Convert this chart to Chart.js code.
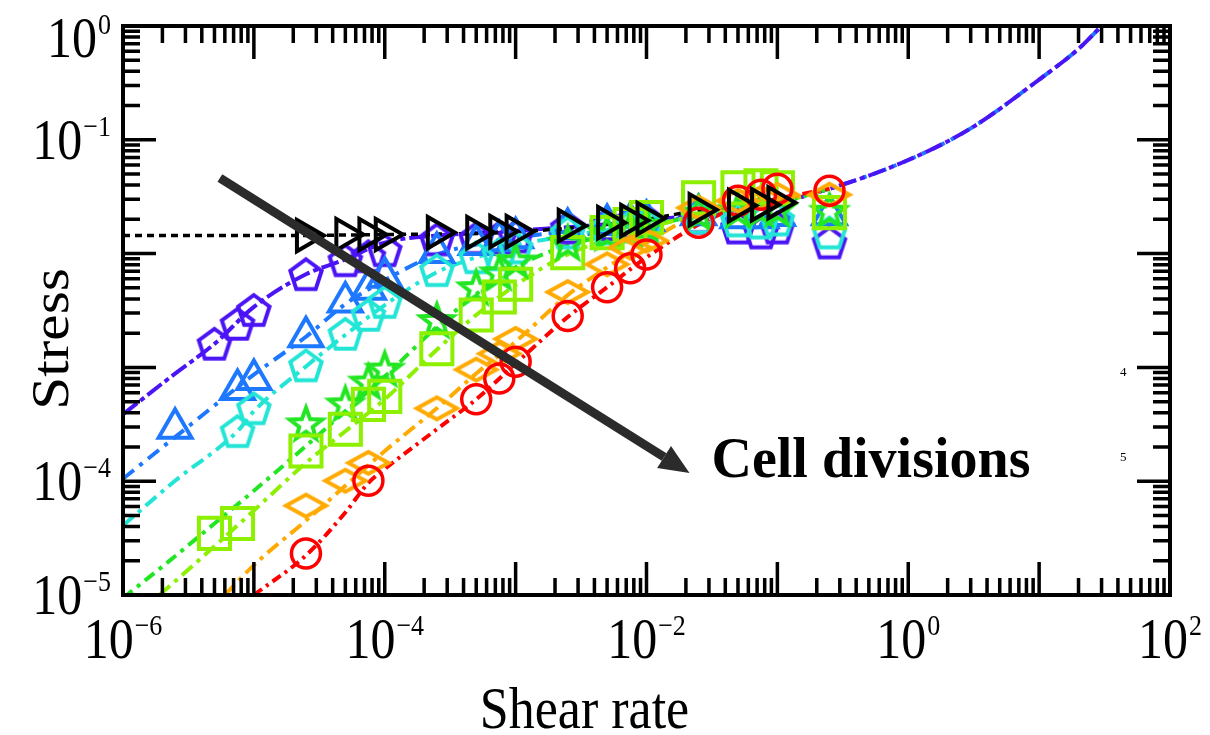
<!DOCTYPE html>
<html>
<head>
<meta charset="utf-8">
<script src="https://cdn.jsdelivr.net/npm/chart.js@4.4.1/dist/chart.umd.min.js"></script>
<style>
html, body { margin: 0; padding: 0; background: #fff; }
#wrap { width: 1210px; height: 735px; }
</style>
</head>
<body>
<div id="wrap"><canvas id="stressChart" width="1210" height="735"></canvas></div>
<script>
// values (shear rate / stress)
var purpleRate = [5e-6, 7.5e-6, 1e-5, 2.5e-5, 5e-5, 7.5e-5, 1e-4, 2.5e-4, 5e-4, 7.5e-4, 1e-3, 2.5e-3, 5e-3, 7.5e-3, 1e-2, 2.5e-2, 5e-2, 7.5e-2, 0.1, 0.25];
var purpleStress = [0.00161, 0.00241, 0.00319, 0.00658, 0.00873, 0.00946, 0.0107, 0.0133, 0.0136, 0.0138, 0.0141, 0.0169, 0.0180, 0.0187, 0.0195, 0.0207, 0.0169, 0.0153, 0.0169, 0.0125];
var blueRate = [2.5e-6, 7.5e-6, 1e-5, 2.5e-5, 5e-5, 7.5e-5, 1e-4, 2.5e-4, 5e-4, 7.5e-4, 1e-3, 2.5e-3, 5e-3, 7.5e-3, 1e-2, 2.5e-2, 5e-2, 7.5e-2, 0.1, 0.25];
var blueStress = [0.000292, 0.000640, 0.000783, 0.00186, 0.00375, 0.00487, 0.00620, 0.0102, 0.0120, 0.0130, 0.0138, 0.0166, 0.0180, 0.0187, 0.0195, 0.0220, 0.0207, 0.0207, 0.0216, 0.0220];
var cyanRate = [7.5e-6, 1e-5, 2.5e-5, 5e-5, 7.5e-5, 1e-4, 2.5e-4, 5e-4, 7.5e-4, 1e-3, 2.5e-3, 5e-3, 7.5e-3, 1e-2, 2.5e-2, 5e-2, 7.5e-2, 0.1, 0.25];
var cyanStress = [0.000275, 0.000437, 0.00104, 0.00197, 0.00289, 0.00375, 0.00714, 0.00927, 0.00984, 0.0113, 0.0153, 0.0166, 0.0173, 0.0180, 0.0207, 0.0195, 0.0187, 0.0199, 0.0153];
var greenRate = [2.5e-5, 5e-5, 7.5e-5, 1e-4, 2.5e-4, 5e-4, 7.5e-4, 1e-3, 2.5e-3, 5e-3, 7.5e-3, 1e-2, 2.5e-2, 5e-2, 7.5e-2, 0.1, 0.25];
var greenStress = [0.000323, 0.000483, 0.000752, 0.000977, 0.00261, 0.00507, 0.00686, 0.00873, 0.0125, 0.0153, 0.0166, 0.0180, 0.0229, 0.0243, 0.0248, 0.0248, 0.0238];
var limeRate = [5e-6, 7.5e-6, 2.5e-5, 5e-5, 7.5e-5, 1e-4, 2.5e-4, 5e-4, 7.5e-4, 1e-3, 2.5e-3, 5e-3, 7.5e-3, 1e-2, 2.5e-2, 5e-2, 7.5e-2, 0.1, 0.25];
var limeStress = [0.0000348, 0.0000425, 0.000184, 0.000286, 0.000473, 0.000556, 0.00146, 0.00289, 0.00415, 0.00538, 0.0102, 0.0153, 0.0180, 0.0207, 0.0309, 0.0378, 0.0394, 0.0378, 0.0229];
var orangeRate = [2.5e-5, 5e-5, 7.5e-5, 2.5e-4, 5e-4, 7.5e-4, 1e-3, 2.5e-3, 5e-3, 7.5e-3, 1e-2, 2.5e-2, 5e-2, 7.5e-2, 0.1, 0.25];
var orangeStress = [0.0000610, 0.000101, 0.000145, 0.000437, 0.000957, 0.00132, 0.00178, 0.00459, 0.00805, 0.0113, 0.0130, 0.0253, 0.0291, 0.0309, 0.0329, 0.0329];
var redRate = [2.5e-5, 7.5e-5, 5e-4, 7.5e-4, 1e-3, 2.5e-3, 5e-3, 7.5e-3, 1e-2, 2.5e-2, 5e-2, 7.5e-2, 0.1, 0.25];
var redStress = [0.0000232, 0.000101, 0.000524, 0.000798, 0.00112, 0.00283, 0.00507, 0.00743, 0.00984, 0.0187, 0.0291, 0.0329, 0.0371, 0.0356];
var blackRate = [2.5e-5, 5e-5, 7.5e-5, 1e-4, 2.5e-4, 5e-4, 7.5e-4, 1e-3, 2.5e-3, 5e-3, 7.5e-3, 1e-2, 2.5e-2, 5e-2, 7.5e-2, 0.1];
var blackStress = [0.0144, 0.0147, 0.0147, 0.0147, 0.0153, 0.0153, 0.0156, 0.0156, 0.0176, 0.0187, 0.0195, 0.0203, 0.0243, 0.0264, 0.0269, 0.0280];

// fitted curves (dash-dot)
var purpleFitRate = [1e-6, 2.5e-6, 5e-6, 1e-5, 2.5e-5, 5e-5, 1e-4, 2.5e-4, 1e-3, 1e-2, 0.1, 0.25, 1, 3, 10, 20, 30];
var purpleFitStress = [0.000387, 0.000883, 0.00161, 0.00340, 0.00658, 0.00890, 0.0125, 0.0144, 0.0159, 0.0195, 0.0280, 0.0371, 0.0664, 0.126, 0.338, 0.63, 1.0];
var blueFitRate = [1e-6, 2.5e-6, 1e-5, 2.5e-5, 5e-5, 1e-4, 2.5e-4, 5e-4, 1e-3, 1e-2, 0.1, 0.25, 1, 3, 10, 20, 30];
var blueFitStress = [0.000105, 0.000244, 0.000865, 0.00186, 0.00360, 0.00584, 0.00984, 0.0120, 0.0138, 0.0187, 0.0280, 0.0371, 0.0664, 0.126, 0.338, 0.63, 1.0];
var cyanFitRate = [1e-6, 2.5e-6, 7.5e-6, 1e-5, 2.5e-5, 5e-5, 1e-4, 2.5e-4, 5e-4, 1e-3, 1e-2, 0.1, 0.25];
var cyanFitStress = [0.0000408, 0.000101, 0.000275, 0.000412, 0.00102, 0.00193, 0.00353, 0.00686, 0.00927, 0.0118, 0.0180, 0.0280, 0.0371];
var greenFitRate = [1e-6, 2.5e-6, 5e-6, 1e-5, 2.5e-5, 5e-5, 1e-4, 2.5e-4, 5e-4, 1e-3, 2.5e-3, 1e-2, 2.5e-2, 0.1, 0.25];
var greenFitStress = [0.0000094, 0.0000219, 0.0000425, 0.0000824, 0.000204, 0.000412, 0.000832, 0.00227, 0.00441, 0.00758, 0.0118, 0.0169, 0.0220, 0.0280, 0.0371];
var limeFitRate = [1.9e-6, 5e-6, 1e-5, 2.5e-5, 5e-5, 1e-4, 2.5e-4, 5e-4, 1e-3, 2.5e-3, 1e-2, 2.5e-2, 0.1, 0.25];
var limeFitStress = [0.00001, 0.0000268, 0.0000552, 0.000145, 0.000275, 0.000524, 0.00143, 0.00289, 0.00528, 0.00984, 0.0166, 0.0220, 0.0280, 0.0371];
var orangeFitRate = [6e-6, 1e-5, 2.5e-5, 5e-5, 1e-4, 2.5e-4, 5e-4, 1e-3, 2.5e-3, 5e-3, 1e-2, 2.5e-2, 0.1, 0.25];
var orangeFitStress = [0.00001, 0.0000183, 0.0000451, 0.0000912, 0.000184, 0.000437, 0.000883, 0.00168, 0.00432, 0.00758, 0.0125, 0.0220, 0.0291, 0.0371];
var redFitRate = [1e-5, 2.5e-5, 5e-5, 7.5e-5, 1e-4, 2.5e-4, 5e-4, 1e-3, 2.5e-3, 5e-3, 1e-2, 2.5e-2, 5e-2, 0.1, 0.25];
var redFitStress = [0.00001, 0.0000223, 0.0000531, 0.0000968, 0.000128, 0.000286, 0.000524, 0.00108, 0.00277, 0.00507, 0.00927, 0.0180, 0.0253, 0.0303, 0.0371];
var blackFitRate = [1e-6, 1e-5, 1e-4, 1e-3, 1e-2, 2.5e-2, 5e-2, 0.1];
var blackFitStress = [0.0144, 0.0144, 0.0147, 0.0155, 0.0200, 0.0240, 0.0262, 0.0280];

// axis labels (powers of ten shown)
var xTickExps = [-6, -4, -2, 0, 2];
var yTickExps = [0, -1, -4, -5];

// annotation arrow, in data coords [rate, stress]
var arrowFrom = [5.5e-6, 0.0462];
var arrowTo = [0.0213, 0.000118];

var PURPLE = '#4b14f5', BLUE = '#1e78ff', CYAN = '#22e5d5', GREEN = '#22e622',
    LIME = '#8cf000', ORANGE = '#ffaa00', RED = '#ff0000';
var SERIF = '"Liberation Serif", "Times New Roman", serif';
var STRETCH = 1.14;

function pts(xs, ys) {
    var out = [];
    for (var i = 0; i < xs.length; i++) out.push({x: xs[i], y: ys[i]});
    return out;
}

function markerCanvas(shape, color) {
    var c = document.createElement('canvas');
    c.width = 50; c.height = 50;
    var g = c.getContext('2d');
    g.strokeStyle = color;
    g.lineWidth = 4;
    g.lineJoin = 'miter';
    g.translate(25, 25);
    g.beginPath();
    var i, a, r;
    if (shape === 'pentagon') {
        for (i = 0; i < 5; i++) {
            a = -Math.PI / 2 + i * 2 * Math.PI / 5;
            g.lineTo(16.5 * Math.cos(a), 16.5 * Math.sin(a) + 1.5);
        }
    } else if (shape === 'star') {
        for (i = 0; i < 10; i++) {
            r = i % 2 ? 7 : 17;
            a = -Math.PI / 2 + i * Math.PI / 5;
            g.lineTo(r * Math.cos(a), r * Math.sin(a) + 1.5);
        }
    } else {
        g.moveTo(-20, 0); g.lineTo(0, -11); g.lineTo(20, 0); g.lineTo(0, 11);
    }
    g.closePath();
    g.stroke();
    return c;
}

function markers(label, xs, ys, color, style, radius, extra) {
    var ds = {
        label: label, data: pts(xs, ys), showLine: false,
        pointStyle: style, pointRadius: radius, pointBorderColor: color,
        pointBackgroundColor: 'rgba(0,0,0,0)', pointBorderWidth: 4
    };
    if (extra) for (var k in extra) ds[k] = extra[k];
    return ds;
}

function fitLine(label, xs, ys, color, dash, width) {
    return {
        label: label, data: pts(xs, ys), borderColor: color, borderWidth: width || 4,
        borderDash: dash, pointRadius: 0, fill: false, cubicInterpolationMode: 'monotone'
    };
}

function stretchedText(ctx, text, x, y, font, align) {
    ctx.save();
    ctx.font = font;
    ctx.textAlign = align || 'left';
    ctx.textBaseline = 'alphabetic';
    ctx.translate(x, y);
    ctx.scale(1, STRETCH);
    ctx.fillText(text, 0, 0);
    ctx.restore();
}

function powLabel(ctx, exp, x, base, anchor) {
    var bigFont = '50px ' + SERIF, supFont = '26px ' + SERIF;
    var sup = exp < 0 ? '\u2212' + Math.abs(exp) : String(exp);
    ctx.font = bigFont;
    var w1 = ctx.measureText('10').width;
    ctx.font = supFont;
    var w2 = ctx.measureText(sup).width;
    var left = anchor === 'right' ? x - w1 - w2 - 1 : x - (w1 + w2 + 1) / 2;
    stretchedText(ctx, '10', left, base, bigFont);
    stretchedText(ctx, sup, left + w1 + 1, base - 23, supFont);
}

var framePlugin = {
    id: 'frame',
    afterDatasetsDraw: function(chart) {
        var ctx = chart.ctx, a = chart.chartArea;
        var xs = chart.scales.x, ys = chart.scales.y;
        ctx.save();

        // arrow "Cell divisions"
        var x0 = xs.getPixelForValue(arrowFrom[0]), y0 = ys.getPixelForValue(arrowFrom[1]);
        var x1 = xs.getPixelForValue(arrowTo[0]), y1 = ys.getPixelForValue(arrowTo[1]);
        var ang = Math.atan2(y1 - y0, x1 - x0), headLen = 30, headW = 13;
        var bx = x1 - headLen * Math.cos(ang), by = y1 - headLen * Math.sin(ang);
        ctx.strokeStyle = '#2b2b2b';
        ctx.fillStyle = '#2b2b2b';
        ctx.lineWidth = 9;
        ctx.lineCap = 'butt';
        ctx.beginPath(); ctx.moveTo(x0, y0); ctx.lineTo(bx, by); ctx.stroke();
        ctx.beginPath();
        ctx.moveTo(x1, y1);
        ctx.lineTo(bx + headW * Math.sin(ang), by - headW * Math.cos(ang));
        ctx.lineTo(bx - headW * Math.sin(ang), by + headW * Math.cos(ang));
        ctx.closePath(); ctx.fill();

        ctx.fillStyle = '#000';
        ctx.font = 'bold 56px ' + SERIF;
        ctx.textAlign = 'left';
        ctx.fillText('Cell divisions', x1 + 22, y1 + 4);

        // frame
        ctx.strokeStyle = '#000';
        ctx.lineWidth = 4;
        ctx.lineCap = 'square';
        ctx.strokeRect(a.left, a.top, a.right - a.left, a.bottom - a.top);

        // inward ticks on all four sides
        ctx.lineWidth = 3.5;
        ctx.lineCap = 'butt';
        var e, m, v, p, len;
        for (e = -6; e <= 2; e++) {
            for (m = 1; m <= 9; m++) {
                v = m * Math.pow(10, e);
                if (v < xs.min * 0.999 || v > xs.max * 1.001) continue;
                p = xs.getPixelForValue(v);
                len = m === 1 ? 33 : 17;
                ctx.beginPath();
                ctx.moveTo(p, a.bottom); ctx.lineTo(p, a.bottom - len);
                ctx.moveTo(p, a.top); ctx.lineTo(p, a.top + len);
                ctx.stroke();
            }
        }
        for (e = -5; e <= 0; e++) {
            for (m = 1; m <= 9; m++) {
                v = m * Math.pow(10, e);
                if (v < ys.min * 0.999 || v > ys.max * 1.001) continue;
                p = ys.getPixelForValue(v);
                len = m === 1 ? 33 : 17;
                ctx.beginPath();
                ctx.moveTo(a.left, p); ctx.lineTo(a.left + len, p);
                ctx.moveTo(a.right, p); ctx.lineTo(a.right - len, p);
                ctx.stroke();
            }
        }

        // tick labels
        ctx.fillStyle = '#000';
        xTickExps.forEach(function(ex) {
            powLabel(ctx, ex, xs.getPixelForValue(Math.pow(10, ex)), a.bottom + 63, 'center');
        });
        yTickExps.forEach(function(ex) {
            var py = ys.getPixelForValue(Math.pow(10, ex));
            powLabel(ctx, ex, a.left - 12, Math.max(py + 19, a.top + 31), 'right');
        });

        // axis titles
        stretchedText(ctx, 'Shear rate', (a.left + a.right) / 2 - 62, a.bottom + 133, '52px ' + SERIF, 'center');
        ctx.save();
        ctx.translate(68, 339);
        ctx.rotate(-Math.PI / 2);
        ctx.scale(STRETCH, 1);
        ctx.font = '52px ' + SERIF;
        ctx.textAlign = 'center';
        ctx.fillText('Stress', 0, 0);
        ctx.restore();

        // leftover legend digits at the right
        ctx.font = '13px ' + SERIF;
        ctx.textAlign = 'left';
        ctx.fillText('4', a.right - 50, 376);
        ctx.fillText('5', a.right - 50, 461);

        ctx.restore();
    }
};

var datasets = [
    markers('black', blackRate, blackStress, '#000', 'triangle', 18, {pointRotation: 90}),
    markers('red', redRate, redStress, RED, 'circle', 14.5, {pointBorderWidth: 3.5}),
    markers('orange', orangeRate, orangeStress, ORANGE, markerCanvas('diamond', ORANGE), 16),
    markers('lime', limeRate, limeStress, LIME, 'rect', 22),
    markers('green', greenRate, greenStress, GREEN, markerCanvas('star', GREEN), 16),
    markers('cyan', cyanRate, cyanStress, CYAN, markerCanvas('pentagon', CYAN), 16),
    markers('blue', blueRate, blueStress, BLUE, 'triangle', 19),
    markers('purple', purpleRate, purpleStress, PURPLE, markerCanvas('pentagon', PURPLE), 16),
    fitLine('black fit', blackFitRate, blackFitStress, '#000', [7, 5], 3.5),
    fitLine('red fit', redFitRate, redFitStress, RED, [10, 5, 3, 5]),
    fitLine('orange fit', orangeFitRate, orangeFitStress, ORANGE, [14, 6, 4, 6]),
    fitLine('lime fit', limeFitRate, limeFitStress, LIME, [14, 6, 4, 6]),
    fitLine('green fit', greenFitRate, greenFitStress, GREEN, [12, 6, 4, 6]),
    fitLine('cyan fit', cyanFitRate, cyanFitStress, CYAN, [14, 6, 4, 6]),
    fitLine('purple fit', purpleFitRate, purpleFitStress, PURPLE, [18, 4, 5, 4]),
    fitLine('blue fit', blueFitRate, blueFitStress, BLUE, [14, 7, 4, 7])
];

var ctx = document.getElementById('stressChart').getContext('2d');
var stressChart = new Chart(ctx, {
    type: 'line',
    data: {datasets: datasets},
    options: {
        responsive: false,
        animation: false,
        devicePixelRatio: 1,
        layout: {padding: {left: 123, right: 40, top: 22, bottom: 140}},
        plugins: {legend: {display: false}, tooltip: {enabled: false}},
        scales: {
            x: {type: 'logarithmic', min: 1e-6, max: 1e2, display: false},
            y: {type: 'logarithmic', min: 1e-5, max: 1, display: false}
        }
    },
    plugins: [framePlugin]
});
</script>
</body>
</html>
